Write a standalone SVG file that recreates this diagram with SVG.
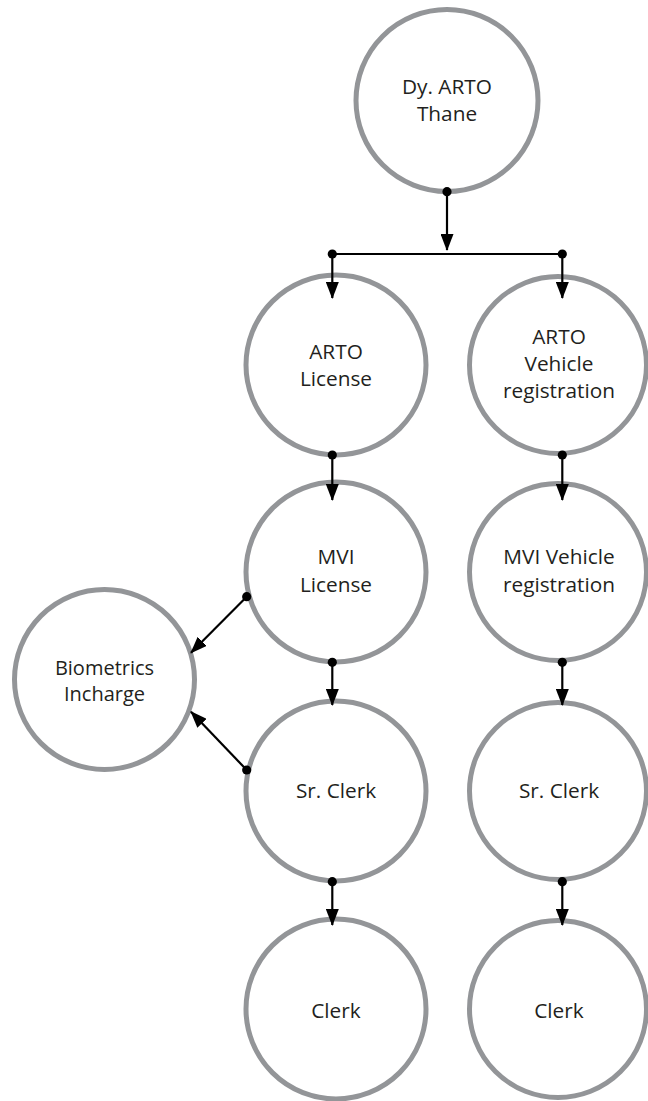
<svg xmlns="http://www.w3.org/2000/svg" width="648" height="1101" viewBox="0 0 648 1101">
  <style>
    .node { fill: #ffffff; stroke: #939598; stroke-width: 5; }
    .label { font-family: "Open Sans", "Noto Sans", "DejaVu Sans", sans-serif; font-size: 20.8px; fill: #231f20; text-anchor: middle; }
    .small { font-size: 20px; }
    .link { fill: none; stroke: #000000; stroke-width: 2.2; }
    .dot { fill: #000000; }
  </style>
  <defs>
    <marker id="arrow" markerUnits="userSpaceOnUse" markerWidth="17" markerHeight="13" refX="16" refY="6.5" orient="auto">
      <path d="M0,0 L17,6.5 L0,13 Z" fill="#000000"/>
    </marker>
  </defs>

  <rect width="648" height="1101" fill="#ffffff"/>

  <!-- nodes -->
  <g id="dy-arto-thane">
    <circle class="node" cx="447" cy="100.5" r="91"/>
    <text class="label" x="447" y="93.5">Dy. ARTO</text>
    <text class="label" x="447" y="121">Thane</text>
  </g>

  <g id="arto-license">
    <circle class="node" cx="336" cy="365" r="90"/>
    <text class="label" x="336" y="358.5">ARTO</text>
    <text class="label" x="336" y="386">License</text>
  </g>

  <g id="arto-vehicle-registration">
    <circle class="node" cx="558" cy="365" r="88.5"/>
    <text class="label" x="559" y="343.5">ARTO</text>
    <text class="label" x="559" y="370.5">Vehicle</text>
    <text class="label" x="559" y="398">registration</text>
  </g>

  <g id="mvi-license">
    <circle class="node" cx="336" cy="572" r="90"/>
    <text class="label" x="336" y="563.5">MVI</text>
    <text class="label" x="336" y="591.5">License</text>
  </g>

  <g id="mvi-vehicle-registration">
    <circle class="node" cx="558" cy="572" r="88.5"/>
    <text class="label" x="559" y="563.5">MVI Vehicle</text>
    <text class="label" x="559" y="591.5">registration</text>
  </g>

  <g id="biometrics-incharge">
    <circle class="node" cx="104.5" cy="679.5" r="90"/>
    <text class="label small" x="104.5" y="675">Biometrics</text>
    <text class="label small" x="104.5" y="701">Incharge</text>
  </g>

  <g id="sr-clerk-license">
    <circle class="node" cx="336" cy="791" r="90"/>
    <text class="label" x="336" y="798">Sr. Clerk</text>
  </g>

  <g id="sr-clerk-vehicle">
    <circle class="node" cx="558" cy="791" r="88.5"/>
    <text class="label" x="559" y="798">Sr. Clerk</text>
  </g>

  <g id="clerk-license">
    <circle class="node" cx="336" cy="1009" r="90"/>
    <text class="label" x="336" y="1017.5">Clerk</text>
  </g>

  <g id="clerk-vehicle">
    <circle class="node" cx="558" cy="1009" r="88.5"/>
    <text class="label" x="559" y="1017.5">Clerk</text>
  </g>

  <!-- connectors -->
  <g id="connectors">
    <path class="link" d="M447,191.7 L447,250" marker-end="url(#arrow)"/>
    <path class="link" d="M332.3,254 L562.3,254"/>
    <path class="link" d="M332.3,254 L332.3,298" marker-end="url(#arrow)"/>
    <path class="link" d="M562.3,254 L562.3,298" marker-end="url(#arrow)"/>

    <path class="link" d="M332.3,455 L332.3,500" marker-end="url(#arrow)"/>
    <path class="link" d="M562.3,455 L562.3,500" marker-end="url(#arrow)"/>
    <path class="link" d="M332.3,662.3 L332.3,705" marker-end="url(#arrow)"/>
    <path class="link" d="M562.3,662.3 L562.3,705" marker-end="url(#arrow)"/>
    <path class="link" d="M332.3,881.7 L332.3,925" marker-end="url(#arrow)"/>
    <path class="link" d="M562.3,881.7 L562.3,925" marker-end="url(#arrow)"/>

    <path class="link" d="M246.7,596.7 L191,652.7" marker-end="url(#arrow)"/>
    <path class="link" d="M246.7,770 L191,711.7" marker-end="url(#arrow)"/>

    <circle class="dot" cx="447" cy="191.7" r="4.6"/>
    <circle class="dot" cx="332.3" cy="254" r="4.6"/>
    <circle class="dot" cx="562.3" cy="254" r="4.6"/>
    <circle class="dot" cx="332.3" cy="455" r="4.6"/>
    <circle class="dot" cx="562.3" cy="455" r="4.6"/>
    <circle class="dot" cx="332.3" cy="662.3" r="4.6"/>
    <circle class="dot" cx="562.3" cy="662.3" r="4.6"/>
    <circle class="dot" cx="332.3" cy="881.7" r="4.6"/>
    <circle class="dot" cx="562.3" cy="881.7" r="4.6"/>
    <circle class="dot" cx="246.7" cy="596.7" r="4.6"/>
    <circle class="dot" cx="246.7" cy="770" r="4.6"/>
  </g>
</svg>
